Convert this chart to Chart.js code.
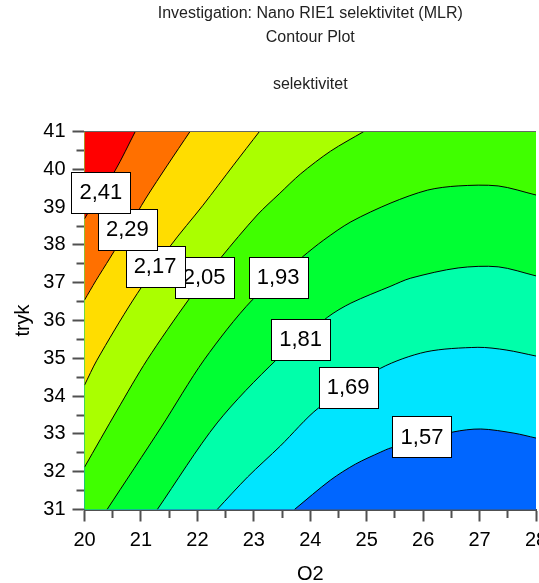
<!DOCTYPE html>
<html>
<head>
<meta charset="utf-8">
<title>Contour Plot</title>
<script src="https://cdn.jsdelivr.net/npm/chart.js@4.4.1/dist/chart.umd.min.js"></script>
<style>
html,body{margin:0;padding:0;background:#fff;overflow:hidden;width:539px;height:583px;}
#wrap{position:absolute;left:0;top:0;width:560px;height:583px;}
canvas{display:block;}
</style>
</head>
<body>
<div id="wrap"><canvas id="chart" width="560" height="583"></canvas></div>
<script>
// ---------- data ----------
const titleLines = ['Investigation: Nano RIE1 selektivitet (MLR)', 'Contour Plot'];
const subtitleText = 'selektivitet';
const xTitle = 'O2';
const yTitle = 'tryk';

const xMajorTicks = [20, 21, 22, 23, 24, 25, 26, 27, 28];
const xMinorTicks = [20.5, 21.5, 22.5, 23.5, 24.5, 25.5, 26.5, 27.5];
const yMajorTicks = [31, 32, 33, 34, 35, 36, 37, 38, 39, 40, 41];
const yMinorTicks = [31.5, 32.5, 33.5, 34.5, 35.5, 36.5, 37.5, 38.5, 39.5, 40.5];

const levels = ['1,57', '1,69', '1,81', '1,93', '2,05', '2,17', '2,29', '2,41'];

// contour lines (O2, tryk)
const c157O2   = [23.72, 24.36, 24.80, 25.25, 25.43, 26.53, 27.02, 27.61, 28];
const c157Tryk = [31, 31.78, 32.20, 32.52, 32.63, 33.05, 33.13, 33.02, 32.89];

const c169O2   = [22.35, 22.89, 23.47, 24.15, 25.25, 26.05, 26.97, 27.47, 28];
const c169Tryk = [31, 31.86, 32.68, 33.69, 34.74, 35.17, 35.29, 35.22, 35.06];

const c181O2   = [21.29, 22.35, 23.40, 24.31, 24.72, 25.43, 25.78, 26.62, 27.33, 28];
const c181Tryk = [31, 33.29, 34.96, 36.09, 36.46, 36.91, 37.12, 37.39, 37.42, 37.18];

const c193O2   = [20.40, 21.36, 22.12, 22.97, 23.86, 24.24, 24.72, 25.43, 26.08, 26.62, 27.33, 28];
const c193Tryk = [31, 33.18, 34.96, 36.54, 37.68, 38.13, 38.61, 39.11, 39.45, 39.56, 39.56, 39.32];

const c205O2   = [24.95, 24.36, 23.83, 23.45, 23.06, 22.41, 21.84, 21.11, 20.58, 20];
const c205Tryk = [41, 40.48, 39.88, 39.35, 38.79, 37.65, 36.54, 34.96, 33.63, 32.12];

const c217O2   = [23.10, 22.64, 22.10, 21.52, 20.86, 20.22, 20];
const c217Tryk = [41, 40.11, 39.05, 37.97, 36.54, 34.95, 34.29];

const c229O2   = [21.87, 21.47, 21.09, 20.76, 20.45, 20.20, 20];
const c229Tryk = [41, 40.11, 39.24, 38.41, 37.65, 37.05, 36.54];

const c241O2   = [20.90, 20.54, 20.06, 20];
const c241Tryk = [41, 39.96, 38.84, 38.69];

// contour label anchors (O2, tryk)
const labelO2   = [25.98, 24.67, 23.83, 23.43, 22.12, 21.25, 20.76, 20.29];
const labelTryk = [32.92, 34.24, 35.51, 37.14, 37.14, 37.44, 38.41, 39.39];

// ---------- style ----------
const baseColor = '#0066ff';
const bandColors = ['#00e5ff', '#00ffaa', '#00ff33', '#40ff00', '#aaff00', '#ffdd00', '#ff7000', '#ff0000'];
const FONT = '"Liberation Sans", Arial, Helvetica, sans-serif';
const SMOOTH = 0.3;

// ---------- build ----------
const X_MIN = xMajorTicks[0], X_MAX = xMajorTicks[xMajorTicks.length - 1];
const Y_MIN = yMajorTicks[0], Y_MAX = yMajorTicks[yMajorTicks.length - 1];

const contours = [
  [c157O2, c157Tryk], [c169O2, c169Tryk], [c181O2, c181Tryk], [c193O2, c193Tryk],
  [c205O2, c205Tryk], [c217O2, c217Tryk], [c229O2, c229Tryk], [c241O2, c241Tryk]
];

function toPoints(xs, ys) { return xs.map((v, i) => ({x: v, y: ys[i]})); }
// region on the high-value side of a contour, closed along the plot frame;
// frame corners are doubled so the smoothed outline keeps straight edges
function closeRegion(pts) {
  const first = pts[0], last = pts[pts.length - 1];
  let corners = [];
  if (last.x === X_MAX) {
    corners = [{x: X_MAX, y: Y_MAX}, {x: X_MIN, y: Y_MAX}, {x: X_MIN, y: Y_MIN}];
  } else if (last.x === X_MIN && first.y === Y_MAX) {
    corners = [{x: X_MIN, y: Y_MAX}];
  }
  const out = pts.slice();
  out.push({x: last.x, y: last.y});
  corners.forEach(c => { out.push(c, {x: c.x, y: c.y}); });
  return out;
}

const datasets = [];
contours.forEach(([xs, ys], i) => {
  const pts = toPoints(xs, ys);
  datasets.push({
    label: 'region ' + levels[i], data: closeRegion(pts), showLine: true,
    fill: 'shape', backgroundColor: bandColors[i], borderWidth: 0,
    pointRadius: 0, pointHoverRadius: 0, tension: SMOOTH, order: 20 - i
  });
  datasets.push({
    label: levels[i], data: pts, showLine: true, fill: false,
    borderColor: '#000', borderWidth: 1, backgroundColor: '#000',
    pointRadius: 0, pointHoverRadius: 0, tension: SMOOTH, order: 1
  });
});

const plotBg = {
  id: 'plotBg',
  beforeDatasetsDraw(chart) {
    const {ctx, chartArea: a} = chart;
    ctx.save();
    ctx.fillStyle = baseColor;
    ctx.fillRect(a.left, a.top, a.right - a.left, a.bottom - a.top);
    ctx.restore();
  },
  afterDatasetsDraw(chart) {
    const {ctx, chartArea: a} = chart;
    ctx.save();
    ctx.strokeStyle = '#666';
    ctx.lineWidth = 1;
    ctx.beginPath();
    const yy = Math.floor(a.top) + 0.5;
    ctx.moveTo(a.left, yy);
    ctx.lineTo(a.right, yy);
    ctx.stroke();
    ctx.restore();
  }
};

const contourLabels = {
  id: 'contourLabels',
  afterDraw(chart) {
    const {ctx, scales: {x, y}} = chart;
    ctx.save();
    ctx.font = '22px ' + FONT;
    ctx.textAlign = 'center';
    ctx.textBaseline = 'middle';
    levels.forEach((t, i) => {
      const px = x.getPixelForValue(labelO2[i]);
      const py = y.getPixelForValue(labelTryk[i]);
      const w = Math.round(ctx.measureText(t).width + 16), h = 41;
      const l = Math.round(px - w / 2) + 0.5, tp = Math.round(py - h / 2) + 0.5;
      ctx.fillStyle = '#fff';
      ctx.fillRect(l, tp, w, h);
      ctx.strokeStyle = '#000';
      ctx.lineWidth = 1;
      ctx.strokeRect(l, tp, w, h);
      ctx.fillStyle = '#000';
      ctx.fillText(t, px, py + 1);
    });
    ctx.restore();
  }
};

Chart.defaults.font.family = FONT;

new Chart(document.getElementById('chart'), {
  type: 'scatter',
  data: {datasets},
  options: {
    responsive: false,
    devicePixelRatio: 1,
    animation: false,
    events: [],
    layout: {padding: {left: 0, right: 24, top: 0, bottom: 0}},
    scales: {
      x: {
        type: 'linear', min: X_MIN, max: X_MAX, z: 1,
        afterBuildTicks: s => { s.ticks = xMajorTicks.concat(xMinorTicks).sort((a, b) => a - b).map(v => ({value: v})); },
        afterFit: s => { s.height = 73.5; },
        ticks: {
          autoSkip: false, maxRotation: 0, minRotation: 0, padding: 7, color: '#000',
          font: {size: 20},
          callback: v => xMajorTicks.includes(v) ? String(v) : ''
        },
        grid: {
          drawOnChartArea: false, drawTicks: true, tickLength: 12,
          tickColor: '#505050', tickWidth: 2,
          tickBorderDash: c => (c.tick && xMajorTicks.includes(c.tick.value)) ? [] : [7, 30]
        },
        border: {display: true, color: '#505050', width: 2},
        title: {display: true, text: xTitle, color: '#000', font: {size: 20, lineHeight: 0.9}, padding: 0}
      },
      y: {
        type: 'linear', min: Y_MIN, max: Y_MAX, z: 1,
        afterBuildTicks: s => { s.ticks = yMajorTicks.concat(yMinorTicks).sort((a, b) => a - b).map(v => ({value: v})); },
        afterFit: s => { s.width = 84.5; },
        ticks: {
          autoSkip: false, padding: 7, color: '#000', font: {size: 20},
          callback: v => yMajorTicks.includes(v) ? String(v) : ''
        },
        grid: {
          drawOnChartArea: false, drawTicks: true, tickLength: 12,
          tickColor: '#505050', tickWidth: 2,
          tickBorderDash: c => (c.tick && yMajorTicks.includes(c.tick.value)) ? [] : [0, 4, 8, 30]
        },
        border: {display: true, color: '#505050', width: 2},
        title: {display: true, text: yTitle, color: '#000', font: {size: 20, lineHeight: 1.2}, padding: {top: 11, bottom: 0}}
      }
    },
    plugins: {
      legend: {display: false},
      tooltip: {enabled: false},
      title: {
        display: true, text: titleLines, fullSize: false, color: '#222',
        font: {size: 16, weight: 'normal', lineHeight: 1.5}, padding: {top: 2, bottom: 0}
      },
      subtitle: {
        display: true, text: subtitleText, fullSize: false, color: '#222',
        font: {size: 16, weight: 'normal', lineHeight: 1.5}, padding: {top: 23, bottom: 34.5}
      }
    }
  },
  plugins: [plotBg, contourLabels]
});
</script>
</body>
</html>
